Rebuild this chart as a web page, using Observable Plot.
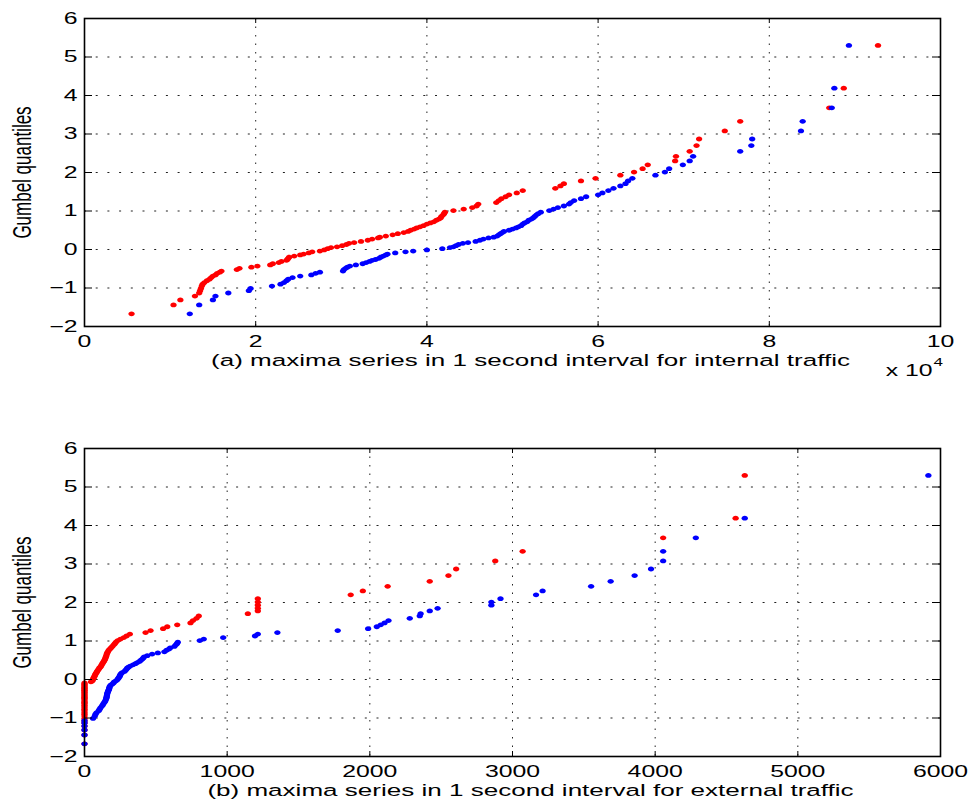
<!DOCTYPE html>
<html>
<head>
<meta charset="utf-8">
<script src="https://cdn.jsdelivr.net/npm/d3@7"></script>
<script src="https://cdn.jsdelivr.net/npm/@observablehq/plot@0.6"></script>
<style>
  html, body { margin: 0; padding: 0; background: #fff; }
  #chart { width: 971px; }
  #chart svg { display: block; }
</style>
</head>
<body>
<div id="chart"></div>
<script>
// Gumbel plotting positions shared by every series (100 sorted maxima each)
const gumbelQuantiles = [
  -1.67, -1.44, -1.31, -1.21, -1.13, -1.07, -1.01, -0.95, -0.90, -0.86,
  -0.81, -0.77, -0.73, -0.69, -0.66, -0.62, -0.59, -0.56, -0.52, -0.49,
  -0.46, -0.43, -0.40, -0.37, -0.34, -0.31, -0.28, -0.26, -0.23, -0.20,
  -0.17, -0.14, -0.12, -0.09, -0.06, -0.04, -0.01, 0.02, 0.05, 0.07,
  0.10, 0.13, 0.16, 0.18, 0.21, 0.24, 0.27, 0.30, 0.32, 0.35,
  0.38, 0.41, 0.44, 0.47, 0.50, 0.53, 0.56, 0.59, 0.62, 0.66,
  0.69, 0.72, 0.76, 0.79, 0.82, 0.86, 0.90, 0.93, 0.97, 1.01,
  1.05, 1.09, 1.13, 1.18, 1.22, 1.27, 1.32, 1.37, 1.42, 1.47,
  1.53, 1.59, 1.65, 1.71, 1.78, 1.85, 1.93, 2.01, 2.10, 2.20,
  2.30, 2.42, 2.55, 2.70, 2.87, 3.08, 3.33, 3.68, 4.19, 5.30
];

// (a) internal traffic, sorted 1-second maxima
const internalRed = [
  5500, 10400, 11200, 12900, 13400, 13500, 13600, 13700, 13800, 14000,
  14300, 14600, 14800, 15000, 15300, 15500, 15800, 16000, 17800, 18100,
  19500, 20200, 21700, 22000, 22700, 23000, 23600, 23700, 23800, 23900,
  24500, 25200, 25600, 26200, 26600, 27500, 28000, 28400, 28800, 29500,
  30100, 30600, 30900, 31500, 32300, 33100, 33600, 34300, 34500, 35200,
  36000, 36600, 37300, 37800, 38100, 38500, 38800, 39200, 39600, 40000,
  40400, 40800, 41100, 41400, 41600, 41700, 41900, 42000, 42100, 43100,
  44300, 45300, 45800, 46000, 48100, 48400, 48700, 49200, 49600, 50500,
  51200, 55000, 55600, 56000, 58000, 59700, 62600, 64200, 65200, 65800,
  69000, 69100, 70700, 71500, 71800, 74800, 76600, 87000, 88700, 92700
];
const internalBlue = [
  12300, 13400, 15000, 15300, 16800, 19200, 19400, 21900, 22900, 23300,
  23600, 23800, 24300, 25200, 26500, 27000, 27500, 30200, 30300, 30500,
  30700, 31000, 31700, 32500, 32900, 33300, 33600, 34000, 34400, 34600,
  34900, 35200, 35400, 36300, 37500, 38400, 40000, 41800, 42700, 43100,
  43400, 43700, 44200, 44800, 45700, 46200, 46600, 47200, 47800, 48200,
  48400, 48600, 48800, 49000, 49600, 50000, 50400, 50700, 51000, 51200,
  51400, 51700, 51900, 52200, 52400, 52600, 52800, 53000, 53300, 54300,
  54800, 55300, 56000, 56600, 56800, 57200, 58000, 58600, 60000, 60500,
  61200, 61800, 62600, 63200, 63500, 64000, 66700, 67800, 68300, 69900,
  70700, 71100, 76600, 77900, 78000, 83700, 83900, 87300, 87600, 89300
];

// (b) external traffic, sorted 1-second maxima
const externalRed = [
  0, 0, 0, 0, 0, 0, 0, 0, 0, 0,
  0, 0, 0, 0, 0, 0, 0, 0, 0, 0,
  0, 0, 0, 0, 0, 0, 0, 0, 0, 0,
  0, 0, 0, 0, 45, 54, 58, 62, 65, 68,
  72, 76, 80, 84, 88, 94, 100, 104, 110, 116,
  120, 125, 130, 135, 140, 144, 147, 150, 153, 156,
  159, 164, 170, 178, 185, 195, 205, 212, 220, 232,
  252, 275, 295, 318, 428, 463, 551, 580, 650, 743,
  760, 785, 801, 1145, 1215, 1215, 1215, 1215, 1215, 1866,
  1951, 2125, 2420, 2551, 2605, 2879, 3071, 4056, 4564, 4628
];
const externalBlue = [
  0, 0, 0, 0, 0, 0, 60, 72, 77, 85,
  100, 106, 113, 122, 128, 134, 140, 145, 150, 152,
  155, 156, 158, 159, 162, 165, 168, 171, 173, 175,
  178, 185, 195, 203, 208, 218, 228, 235, 240, 245,
  248, 252, 258, 264, 280, 288, 295, 300, 308, 320,
  340, 357, 370, 385, 395, 405, 412, 418, 440, 474,
  514, 560, 575, 592, 600, 630, 640, 648, 654, 808,
  836, 972, 1195, 1215, 1352, 1775, 1988, 2049, 2076, 2103,
  2131, 2280, 2350, 2356, 2420, 2475, 2852, 2852, 2916, 3165,
  3211, 3551, 3688, 3856, 3971, 4056, 4056, 4285, 4628, 5915
];

const yTicks = [-2, -1, 0, 1, 2, 3, 4, 5, 6];
const internalTicks = [0, 20000, 40000, 60000, 80000, 100000];
const externalTicks = [0, 1000, 2000, 3000, 4000, 5000, 6000];
const yLabel = "Gumbel quantiles";
const captions = [
  "(a) maxima series in 1 second interval for internal traffic",
  "(b) maxima series in 1 second interval for external traffic"
];
const exponentLabel = ["x 10", "4"];

const WIDTH = 971, M_LEFT = 84, M_RIGHT = 31, PLOT_H = 308;
const PLOT_W = WIDTH - M_LEFT - M_RIGHT;
const FONT = "'Liberation Sans', Arial, Helvetica, sans-serif";
const TEXT_STRETCH = 1.55; // the figure's lettering is wide, drawn with a horizontal stretch

// Filled point marker, slightly wider than tall
const wideDot = {
  draw(context, size) {
    const r = Math.sqrt(size / Math.PI);
    const rx = r * 1.22, ry = r * 0.92, k = 0.5523;
    context.moveTo(rx, 0);
    context.bezierCurveTo(rx, ry * k, rx * k, ry, 0, ry);
    context.bezierCurveTo(-rx * k, ry, -rx, ry * k, -rx, 0);
    context.bezierCurveTo(-rx, -ry * k, -rx * k, -ry, 0, -ry);
    context.bezierCurveTo(rx * k, -ry, rx, -ry * k, rx, 0);
    context.closePath();
  }
};

const minusFormat = d => (d < 0 ? "\u2212" + (-d) : String(d));

function panel({red, blue, xTicks, xFormat, caption, exponent, height, marginTop, marginBottom}) {
  const rows = series => gumbelQuantiles.map((q, i) => ({value: series[i], q}));
  const innerX = xTicks.slice(1, -1);
  const innerY = yTicks.slice(1, -1);
  const textOpts = {fontFamily: FONT, fontSize: 16, fill: "black"};

  const marks = [
    // dotted grid
    Plot.ruleY(innerY, {y: d => d, stroke: "#222", strokeWidth: 1, strokeDasharray: "2,9.7"}),
    Plot.ruleX(innerX, {x: d => d, stroke: "#222", strokeWidth: 1, strokeDasharray: "1.5,7"}),
    // the two series, blue drawn over red
    Plot.dot(rows(red), {x: "value", y: "q", r: 2.6, symbol: wideDot, fill: "#ff0000", stroke: "none"}),
    Plot.dot(rows(blue), {x: "value", y: "q", r: 2.6, symbol: wideDot, fill: "#0000ff", stroke: "none"}),
    // inward ticks on all four sides of the box
    Plot.tickX(xTicks, {x: d => d, insetTop: PLOT_H - 5, stroke: "black"}),
    Plot.tickX(xTicks, {x: d => d, insetBottom: PLOT_H - 5, stroke: "black"}),
    Plot.tickY(yTicks, {y: d => d, insetRight: PLOT_W - 8, stroke: "black"}),
    Plot.tickY(yTicks, {y: d => d, insetLeft: PLOT_W - 8, stroke: "black"}),
    Plot.frame({stroke: "black", strokeWidth: 1.6}),
    // tick labels
    Plot.text(yTicks, {y: d => d, text: minusFormat, frameAnchor: "left", textAnchor: "end",
      lineAnchor: "middle", dx: -7, ...textOpts}),
    Plot.text(xTicks, {x: d => d, text: xFormat, frameAnchor: "bottom", textAnchor: "middle",
      lineAnchor: "middle", dy: 15.5, ...textOpts}),
    // axis titles
    Plot.text([yLabel], {text: d => d, frameAnchor: "left", rotate: -90, textAnchor: "middle",
      lineAnchor: "middle", dx: -62, ...textOpts, fontSize: 17}),
    Plot.text([caption], {text: d => d, frameAnchor: "bottom", textAnchor: "middle",
      lineAnchor: "middle", dx: 18, dy: 34, ...textOpts, fontSize: 16.8})
  ];
  if (exponent) {
    marks.push(
      Plot.text([exponent[0]], {text: d => d, frameAnchor: "bottom-right", textAnchor: "end",
        lineAnchor: "middle", dx: -8, dy: 44, ...textOpts}),
      Plot.text([exponent[1]], {text: d => d, frameAnchor: "bottom-right", textAnchor: "start",
        lineAnchor: "middle", dx: -7, dy: 36, ...textOpts, fontSize: 11})
    );
  }

  const svg = Plot.plot({
    width: WIDTH,
    height,
    marginLeft: M_LEFT,
    marginRight: M_RIGHT,
    marginTop,
    marginBottom,
    style: {background: "white", color: "black", fontFamily: FONT, fontSize: "16px"},
    x: {domain: [xTicks[0], xTicks[xTicks.length - 1]], axis: null},
    y: {domain: [yTicks[0], yTicks[yTicks.length - 1]], axis: null},
    marks
  });

  // widen the lettering about each label's anchor point
  svg.querySelectorAll("text").forEach(t => {
    const tr = t.getAttribute("transform") || "";
    const s = tr.includes("rotate") ? ` scale(1,${TEXT_STRETCH})` : ` scale(${TEXT_STRETCH},1)`;
    t.setAttribute("transform", tr + s);
  });
  return svg;
}

const chart = document.getElementById("chart");
chart.appendChild(panel({
  red: internalRed, blue: internalBlue,
  xTicks: internalTicks, xFormat: d => String(d / 10000),
  caption: captions[0], exponent: exponentLabel,
  height: 400, marginTop: 18, marginBottom: 74
}));
chart.appendChild(panel({
  red: externalRed, blue: externalBlue,
  xTicks: externalTicks, xFormat: d => String(d),
  caption: captions[1], exponent: null,
  height: 401, marginTop: 48, marginBottom: 45
}));
</script>
</body>
</html>
